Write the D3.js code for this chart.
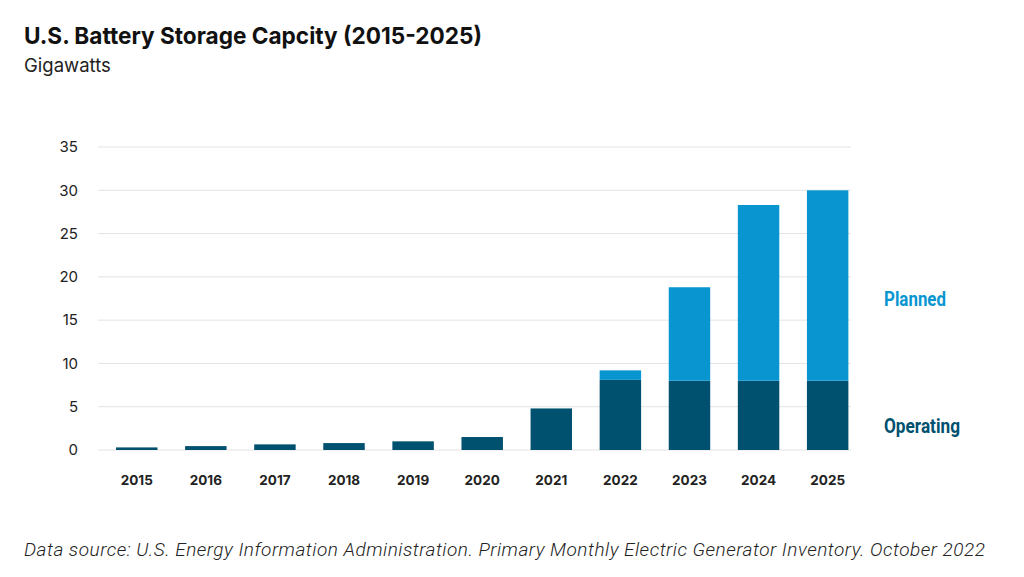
<!DOCTYPE html>
<html>
<head>
<meta charset="utf-8">
<script src="https://cdn.jsdelivr.net/npm/d3@7"></script>
<style>
  body { margin: 0; background: #fff; }
  svg { display: block; }
</style>
</head>
<body>
<svg id="chart" width="1024" height="577"></svg>
<script>
// chart data
var years = ["2015", "2016", "2017", "2018", "2019", "2020", "2021", "2022", "2023", "2024", "2025"];
var operating = [0.3, 0.45, 0.65, 0.8, 1.0, 1.5, 4.8, 8.1, 8.0, 8.0, 8.0];
var planned = [0, 0, 0, 0, 0, 0, 0, 1.1, 10.8, 20.3, 22.0];
var yTicks = [0, 5, 10, 15, 20, 25, 30, 35];

var opColor = "#00506f";
var plColor = "#0996d0";

var svg = d3.select("#chart");

var x = d3.scaleBand()
    .domain(years)
    .range([102.2, 862.2])
    .paddingInner(0.4)
    .paddingOuter(0.2);

var y = d3.scaleLinear()
    .domain([0, 35])
    .range([450, 147]);

// gridlines
svg.selectAll(".grid")
    .data(yTicks)
    .enter().append("line")
    .attr("x1", 98)
    .attr("x2", 851)
    .attr("y1", function(d) { return y(d); })
    .attr("y2", function(d) { return y(d); })
    .attr("stroke", "#e3e3e3")
    .attr("stroke-width", 1);

// y axis labels
var yAxis = svg.append("g")
    .attr("transform", "translate(78,0)")
    .call(d3.axisLeft(y).tickValues(yTicks).tickSize(0).tickPadding(0));
yAxis.select(".domain").remove();
yAxis.selectAll("text")
    .attr("font-family", "Inter, 'Noto Sans', sans-serif")
    .attr("font-size", 15)
    .attr("fill", "#222");

// x axis labels
var xAxis = svg.append("g")
    .attr("transform", "translate(0,475)")
    .call(d3.axisBottom(x).tickSize(0).tickPadding(0));
xAxis.select(".domain").remove();
xAxis.selectAll("text")
    .attr("font-family", "Inter, 'Noto Sans', sans-serif")
    .attr("font-size", 13.5)
    .attr("font-weight", "bold")
    .attr("fill", "#222");

// stacked bars
var rows = years.map(function(yr, i) {
    return { year: yr, operating: operating[i], planned: planned[i] };
});
var stack = d3.stack().keys(["operating", "planned"])(rows);
var colors = { operating: opColor, planned: plColor };

svg.selectAll(".layer")
    .data(stack)
    .enter().append("g")
    .attr("fill", function(d) { return colors[d.key]; })
    .selectAll("rect")
    .data(function(d) { return d.filter(function(p) { return p[1] > p[0]; }); })
    .enter().append("rect")
    .attr("x", function(d) { return x(d.data.year); })
    .attr("width", x.bandwidth())
    .attr("y", function(d) { return y(d[1]); })
    .attr("height", function(d) { return y(d[0]) - y(d[1]); });

// series labels on the right (condensed look via textLength)
svg.append("text")
    .attr("x", 884).attr("y", 306)
    .attr("font-family", "Roboto, sans-serif")
    .attr("font-weight", "bold")
    .attr("font-size", 19.5)
    .attr("fill", plColor)
    .attr("textLength", 62)
    .attr("lengthAdjust", "spacingAndGlyphs")
    .text("Planned");
svg.append("text")
    .attr("x", 884).attr("y", 433)
    .attr("font-family", "Roboto, sans-serif")
    .attr("font-weight", "bold")
    .attr("font-size", 19.5)
    .attr("fill", opColor)
    .attr("textLength", 76)
    .attr("lengthAdjust", "spacingAndGlyphs")
    .text("Operating");

// title, subtitle, source
svg.append("text")
    .attr("x", 24).attr("y", 44)
    .attr("font-family", "Inter, 'Noto Sans', sans-serif")
    .attr("font-weight", "bold")
    .attr("font-size", 23.5)
    .attr("fill", "#111")
    .attr("textLength", 458)
    .attr("lengthAdjust", "spacingAndGlyphs")
    .text("U.S. Battery Storage Capcity (2015-2025)");
svg.append("text")
    .attr("x", 24).attr("y", 72)
    .attr("font-family", "Inter, 'Noto Sans', sans-serif")
    .attr("font-size", 18.5)
    .attr("fill", "#222")
    .text("Gigawatts");
svg.append("text")
    .attr("x", 24).attr("y", 556)
    .attr("font-family", "Roboto, 'Noto Sans', sans-serif")
    .attr("font-style", "italic")
    .attr("font-weight", 300)
    .attr("font-size", 19)
    .attr("fill", "#222")
    .attr("textLength", 961)
    .text("Data source: U.S. Energy Information Administration. Primary Monthly Electric Generator Inventory. October 2022");
</script>
</body>
</html>
